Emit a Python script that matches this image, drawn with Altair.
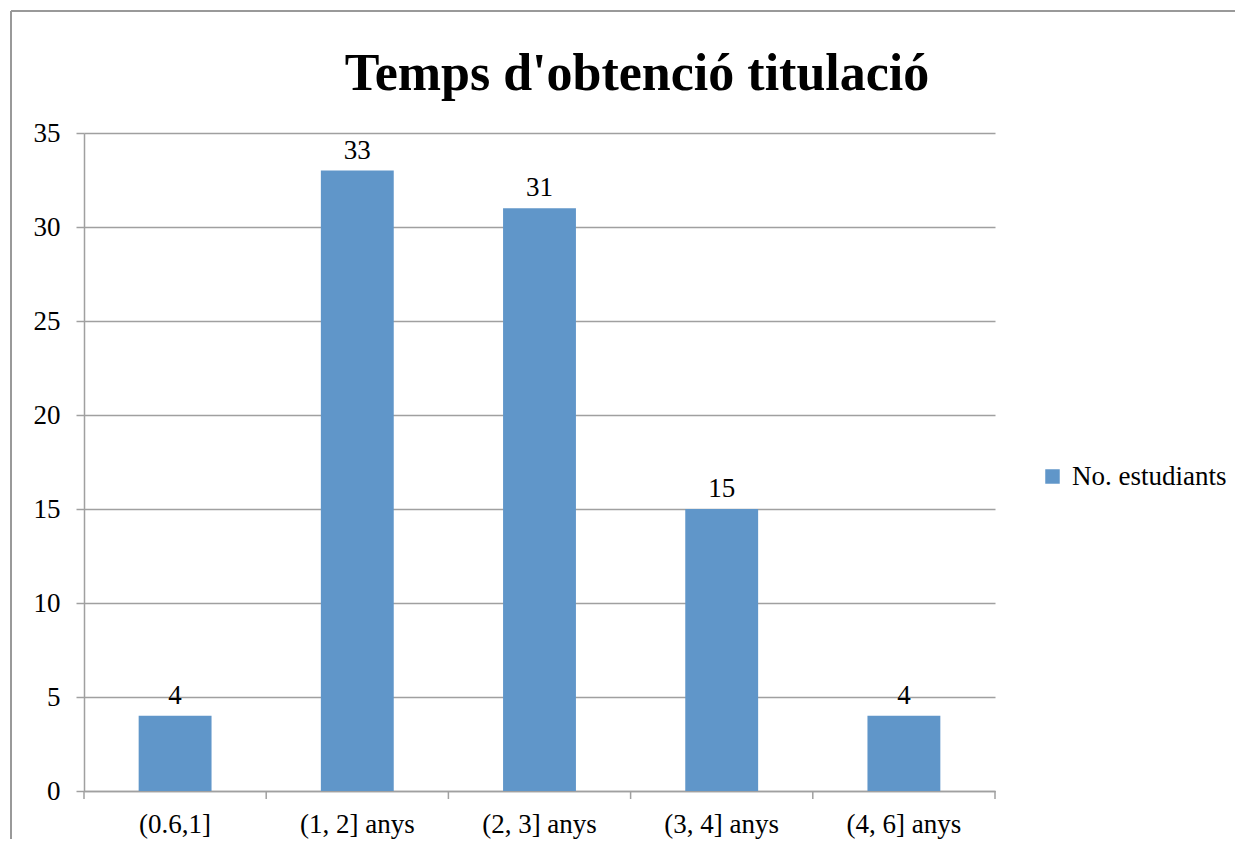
import altair as alt
import pandas as pd

categories = ["(0.6,1]", "(1, 2] anys", "(2, 3] anys", "(3, 4] anys", "(4, 6] anys"]
values = [4, 33, 31, 15, 4]
series_name = "No. estudiants"
title_text = "Temps d'obtenció titulació"

FONT = "Liberation Serif"
BAR = "#6096c9"
GRID = "#a0a0a0"
FS = 27

df = pd.DataFrame({"cat": categories, "val": values, "series": series_name})

W, H = 911, 658

xscale = alt.Scale(domain=categories, paddingInner=0, paddingOuter=0)
yscale = alt.Scale(domain=[0, 35], nice=False)

bars = alt.Chart(df).mark_bar(width=alt.RelativeBandSize(0.4), color=BAR).encode(
    x=alt.X("cat:N", scale=xscale, sort=categories, title=None,
            axis=alt.Axis(labelAngle=0, ticks=False, domain=True, domainColor=GRID,
                          labelFont=FONT, labelFontSize=FS, labelColor="black",
                          labelPadding=20, grid=False)),
    y=alt.Y("val:Q", scale=yscale, title=None,
            axis=alt.Axis(values=[0, 5, 10, 15, 20, 25, 30, 35], grid=True, gridColor=GRID,
                          domainColor=GRID, tickColor=GRID, tickSize=8,
                          labelFont=FONT, labelFontSize=FS, labelColor="black",
                          labelPadding=16)),
    fill=alt.Fill("series:N", scale=alt.Scale(range=[BAR]),
                  legend=alt.Legend(title=None, orient="none", legendX=955, legendY=330,
                                    symbolType="square", symbolSize=210, symbolStrokeWidth=0,
                                    labelFont=FONT, labelFontSize=FS, labelColor="black",
                                    labelOffset=6)),
)

labels = alt.Chart(df).mark_text(font=FONT, fontSize=FS, baseline="bottom", dy=-6, color="black").encode(
    x=alt.X("cat:N", scale=xscale, sort=categories),
    y=alt.Y("val:Q", scale=yscale),
    text=alt.Text("val:Q"),
)

ticks0 = alt.Chart(df).mark_rule(color=GRID, strokeWidth=1.5).encode(
    x=alt.X("cat:N", scale=xscale, sort=categories, bandPosition=0),
    y=alt.value(H), y2=alt.value(H + 8),
)
ticks1 = alt.Chart(df.tail(1)).mark_rule(color=GRID, strokeWidth=1.5).encode(
    x=alt.X("cat:N", scale=xscale, sort=categories, bandPosition=1),
    y=alt.value(H), y2=alt.value(H + 8),
)

border_left = alt.Chart(df.head(1)).mark_rule(color="#999999", strokeWidth=2).encode(
    x=alt.value(-73), y=alt.value(-122), y2=alt.value(H + 80))
border_top = alt.Chart(df.head(1)).mark_rule(color="#999999", strokeWidth=2).encode(
    x=alt.value(-73), x2=alt.value(1200), y=alt.value(-122))

title = alt.Chart(df.head(1)).mark_text(font=FONT, fontSize=52, fontWeight="bold",
                                        baseline="alphabetic", align="center", color="black").encode(
    x=alt.value(553), y=alt.value(-43), text=alt.value(title_text))

chart = alt.layer(border_left, border_top, bars, labels, ticks0, ticks1, title).properties(
    width=W, height=H,
    autosize=alt.AutoSizeParams(type="none"),
    padding={"left": 76, "top": 125, "right": 240, "bottom": 48},
).configure_view(stroke=None).configure_axis(domainWidth=1.5, gridWidth=1.5, tickWidth=1.5)

chart.save("out.html", embed_options={"renderer": "svg", "actions": False})
